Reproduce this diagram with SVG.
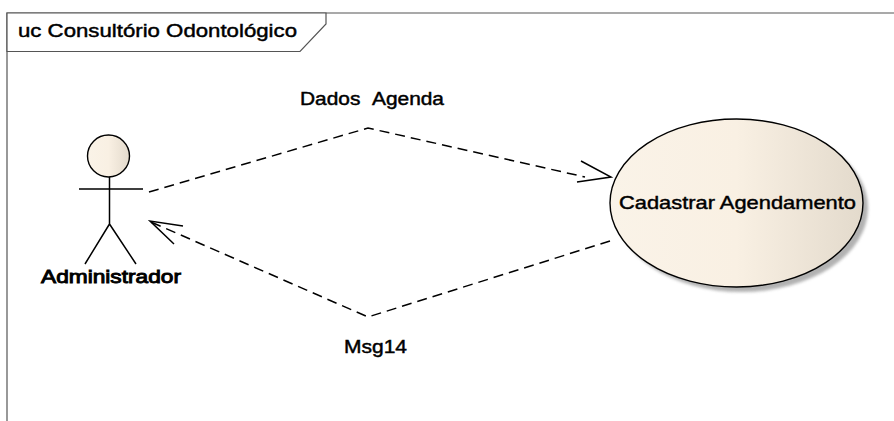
<svg xmlns="http://www.w3.org/2000/svg" width="894" height="421" viewBox="0 0 894 421">
<style>
.t{font-family:"Liberation Sans",Arial,sans-serif;fill:#000;stroke:#000;stroke-width:.45px}
.l{fill:none;stroke:#000;stroke-width:1.5}
.d{fill:none;stroke:#000;stroke-width:1.5;stroke-dasharray:10 6}
.o{stroke:#000;stroke-width:1.4}
</style>
<defs>
<linearGradient id="g" x1="0" y1="0" x2="1" y2="0">
<stop offset="0" stop-color="#faf3e8"/><stop offset=".5" stop-color="#f9f0e3"/><stop offset="1" stop-color="#e3dacc"/>
</linearGradient>
<filter id="b" x="-10%" y="-10%" width="120%" height="120%"><feGaussianBlur stdDeviation="1.5"/></filter>
</defs>
<rect width="894" height="421" fill="#fff"/>
<g id="frame">
<path d="M7 421V13H894" fill="none" stroke="#555" stroke-width="1.2"/>
<path d="M7 13H326V24L300 51.500H7Z" fill="#fff" stroke="#555" stroke-width="1.200"/>
<text class="t" x="18" y="37" font-size="19" textLength="279" lengthAdjust="spacingAndGlyphs">uc Consultório Odontológico</text>
</g>
<g id="connectors">
<path class="d" d="M149 192L368 128L585 177"/>
<path class="l" d="M581 161L611 177L577 182"/>
<path class="d" d="M610 241L368 317L151 222"/>
<path class="l" d="M183 226L150 221L174 244"/>
</g>
<g id="label-dados"><text class="t" x="300" y="105" font-size="18" word-spacing="6" textLength="144" lengthAdjust="spacingAndGlyphs">Dados Agenda</text></g>
<g id="label-msg"><text class="t" x="344" y="353" font-size="18" textLength="63" lengthAdjust="spacingAndGlyphs">Msg14</text></g>
<g id="actor">
<circle class="o" cx="108.500" cy="156" r="21" fill="url(#g)"/>
<path class="l" d="M79 189H143M109.500 177V224M109.500 224L85 264M109.500 224L136 264"/>
<text class="t" x="41" y="283" font-size="18" textLength="140" lengthAdjust="spacingAndGlyphs" style="stroke-width:.9px">Administrador</text>
</g>
<g id="usecase">
<ellipse cx="741.500" cy="208" rx="126.500" ry="84" fill="#999" opacity=".75" filter="url(#b)"/>
<ellipse class="o" cx="736.500" cy="203" rx="126.500" ry="84" fill="url(#g)"/>
<text class="t" x="619" y="209" font-size="19" textLength="237" lengthAdjust="spacingAndGlyphs">Cadastrar Agendamento</text>
</g>
</svg>
